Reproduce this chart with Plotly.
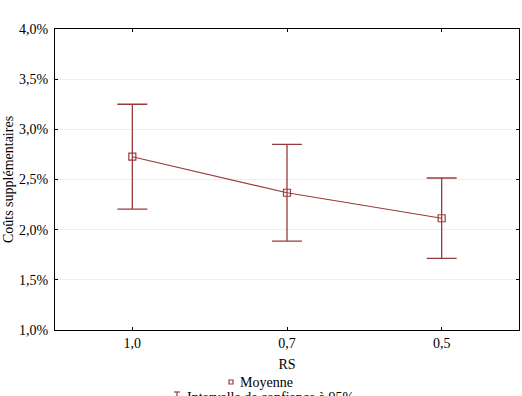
import plotly.graph_objects as go

categories = ["1,0", "0,7", "0,5"]
means = [0.02727, 0.02368, 0.02114]
upper = [0.03250, 0.02850, 0.02515]
lower = [0.02204, 0.01885, 0.01714]
y_ticks = [0.010, 0.015, 0.020, 0.025, 0.030, 0.035, 0.040]
legend_labels = ["Moyenne", "Intervalle de confiance à 95%"]

color = "#9a3b3b"
font = "Times New Roman, Liberation Serif, serif"
fs = 14

err_plus = [u - m for u, m in zip(upper, means)]
err_minus = [m - l for m, l in zip(means, lower)]

fig = go.Figure()
fig.add_trace(go.Scatter(
    x=categories, y=means, mode="lines",
    line=dict(color=color, width=1.2), showlegend=False, hoverinfo="skip",
    error_y=dict(type="data", symmetric=False, array=err_plus, arrayminus=err_minus,
                 color=color, thickness=1.3, width=15),
))
fig.add_trace(go.Scatter(
    x=categories, y=means, mode="markers", showlegend=False,
    marker=dict(symbol="square-open", size=7, color=color, line=dict(color=color, width=1.2)),
    name=legend_labels[0],
))

L, R, T, B = 55, 519, 29, 330
def px(x):
    return (x - L) / (R - L)
def py(y):
    return (B - y) / (B - T)

annotations = [
    dict(text=legend_labels[0], x=px(238), y=py(382), xref="paper", yref="paper",
         xanchor="left", yanchor="middle", showarrow=False,
         font=dict(family=font, size=fs, color="black")),
    dict(text=legend_labels[1], x=px(185), y=py(397), xref="paper", yref="paper",
         xanchor="left", yanchor="middle", showarrow=False,
         font=dict(family=font, size=fs, color="black")),
]
shapes = [
    dict(type="rect", xref="paper", yref="paper", x0=px(229), x1=px(233), y0=py(380), y1=py(384),
         line=dict(color=color, width=1.2)),
    dict(type="line", xref="paper", yref="paper", x0=px(177), x1=px(177), y0=py(392), y1=py(400),
         line=dict(color=color, width=1.2)),
    dict(type="line", xref="paper", yref="paper", x0=px(174), x1=px(180), y0=py(392), y1=py(392),
         line=dict(color=color, width=1.2)),
]

fig.update_layout(
    width=522, height=396,
    margin=dict(l=L, r=522 - R, t=T, b=396 - B, autoexpand=False),
    paper_bgcolor="white", plot_bgcolor="white",
    separators=", ",
    showlegend=False,
    font=dict(family=font, size=fs, color="black"),
    annotations=annotations,
    shapes=shapes,
    xaxis=dict(
        type="category", range=[-0.5, 2.5],
        showline=True, linecolor="black", linewidth=1, mirror="allticks",
        ticks="inside", ticklen=3, tickcolor="black",
        showgrid=False, zeroline=False,
        title=dict(text="RS", font=dict(size=fs, family=font), standoff=9),
        tickfont=dict(size=fs, family=font),
    ),
    yaxis=dict(
        range=[0.010, 0.040], tickvals=y_ticks, tickformat=".1%",
        showline=True, linecolor="black", linewidth=1, mirror="allticks",
        ticks="inside", ticklen=3, tickcolor="black", ticklabelstandoff=3,
        showgrid=True, gridcolor="#f0f0f0", gridwidth=1, zeroline=False,
        title=dict(text="Coûts supplémentaires", font=dict(size=fs, family=font), standoff=2),
        tickfont=dict(size=fs, family=font),
    ),
)

fig.write_html("out.html")
